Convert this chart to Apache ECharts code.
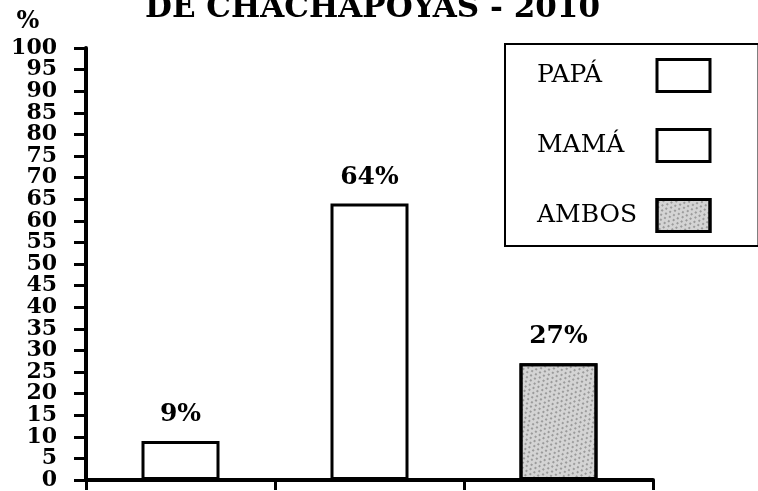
<!DOCTYPE html>
<html>
<head>
<meta charset="utf-8">
<script src="https://cdn.jsdelivr.net/npm/echarts@6/dist/echarts.min.js"></script>
<style>
html,body{margin:0;padding:0;background:#fff;}
#chart{width:758px;height:491px;}
</style>
</head>
<body>
<div id="chart"></div>
<script>
const titleText = 'DE CHACHAPOYAS - 2010';
const categories = ['PAPÁ', 'MAMÁ', 'AMBOS'];
const papaValues = [9, '-', '-'];
const mamaValues = ['-', 64, '-'];
const ambosValues = ['-', '-', 27];
const yMin = 0, yMax = 100, yStep = 5;

const serif = 'DejaVu Serif';
const labelStyle = {
  show: true, position: 'top', distance: 14,
  formatter: p => p.value + '%',
  fontFamily: serif, fontWeight: 'bold', fontSize: 25, color: '#000'
};
function barSeries(name, data, fill, decal) {
  const s = {
    name: name, type: 'bar', stack: 'all', data: data, barWidth: 78,
    itemStyle: { color: fill, borderColor: '#000', borderWidth: 3 },
    label: labelStyle,
    emphasis: { disabled: true }
  };
  if (decal) s.itemStyle.decal = decal;
  return s;
}
const dots = {
  symbol: 'circle', symbolSize: 0.7, color: 'rgba(0,0,0,0.75)',
  dashArrayX: [[2, 3], [0, 2, 2, 1]], dashArrayY: [2, 2], rotation: 0.7
};
const yLabelStyle = {
  margin: 29, fontFamily: serif, fontWeight: 'bold', fontSize: 22, color: '#000'
};
const yTick = { show: true, length: 12, lineStyle: { color: '#000', width: 3 } };

const chart = echarts.init(document.getElementById('chart'), null, { renderer: 'canvas' });
chart.setOption({
  animation: false,
  backgroundColor: '#fff',
  title: {
    text: titleText, left: 145, top: -7, padding: 0,
    textStyle: { fontFamily: serif, fontWeight: 'bold', fontSize: 31, color: '#000' }
  },
  legend: {
    orient: 'vertical', left: 505, top: 44,
    padding: [14, 47, 13, 32],
    borderColor: '#000', borderWidth: 2,
    itemGap: 35, itemWidth: 53, itemHeight: 32,
    align: 'right', icon: 'rect',
    itemStyle: { borderColor: '#000', borderWidth: 3 },
    formatter: name => '{t|' + name + '}',
    textStyle: {
      fontFamily: serif, fontSize: 25, color: '#000',
      rich: { t: { fontFamily: serif, fontSize: 25, color: '#000', width: 115, align: 'left' } }
    },
    selectedMode: false,
    data: categories
  },
  grid: { left: 86, right: 105, top: 48, bottom: 9, containLabel: false },
  xAxis: {
    type: 'category', data: categories,
    axisLine: { lineStyle: { color: '#000', width: 4 } },
    axisTick: { show: true, length: 10, lineStyle: { color: '#000', width: 3 } },
    axisLabel: { show: false },
    splitLine: { show: false }
  },
  yAxis: [{
    type: 'value', min: yMin, max: yMax, interval: yStep, position: 'left',
    name: '%', nameLocation: 'end', nameGap: 14,
    nameTextStyle: { fontFamily: serif, fontWeight: 'bold', fontSize: 24, color: '#000', padding: [0, 116, 0, 0] },
    axisLine: { show: true, lineStyle: { color: '#000', width: 4 } },
    axisTick: yTick,
    axisLabel: Object.assign({ showMinLabel: false, showMaxLabel: false }, yLabelStyle),
    splitLine: { show: false }
  }, {
    type: 'value', min: yMin, max: yMax, interval: yMax - yMin, position: 'left', offset: 0,
    axisLine: { show: false },
    axisTick: yTick,
    axisLabel: Object.assign({ showMinLabel: true, showMaxLabel: true }, yLabelStyle),
    splitLine: { show: false }
  }],
  series: [
    barSeries('PAPÁ', papaValues, '#fff'),
    barSeries('MAMÁ', mamaValues, '#fff'),
    barSeries('AMBOS', ambosValues, '#d4d4d4', dots)
  ]
});
</script>
</body>
</html>
